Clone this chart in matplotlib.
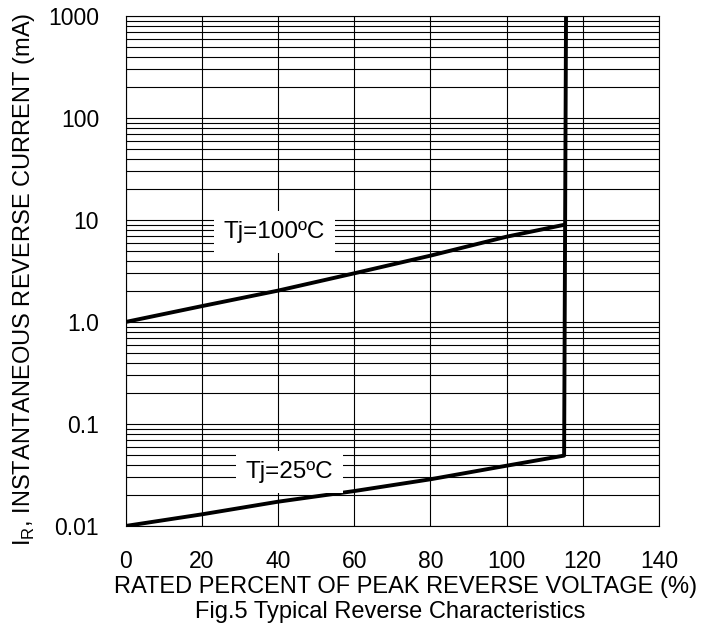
import numpy as np
import matplotlib
matplotlib.use('Agg')
import matplotlib.pyplot as plt

#-- fonts (Arial look-alike)
plt.rcParams['font.family'] = ['Liberation Sans', 'DejaVu Sans']
plt.rcParams['mathtext.fontset'] = 'custom'
plt.rcParams['mathtext.rm'] = 'Liberation Sans'

#-- data
pct_100 = [0, 20, 40, 60, 80, 100, 115.3]
ir_100 = [1.0, 1.43, 2.03, 3.0, 4.47, 6.86, 9.0]

pct_25 = [0, 20, 40, 60, 80, 100, 115.1, 115.6]
ir_25 = [0.01, 0.013, 0.0173, 0.022, 0.0287, 0.039, 0.049, 1000]

xticks = [0, 20, 40, 60, 80, 100, 120, 140]
yticks = [0.01, 0.1, 1.0, 10, 100, 1000]
ylabels = ['0.01', '0.1', '1.0', '10', '100', '1000']

fig = plt.figure(figsize=(7.05, 6.23), dpi=100)
ax = fig.add_axes([125.5 / 705, 1 - 526 / 623, 533.5 / 705, 510 / 623])

ax.set_yscale('log')
ax.set_xlim(0, 140)
ax.set_ylim(0.01, 1000)

#-- grid: major and minor, thin black lines
ax.set_xticks(xticks)
ax.set_yticks(yticks)
ax.set_yticklabels(ylabels)
ax.yaxis.set_minor_locator(matplotlib.ticker.LogLocator(base=10, subs=np.arange(2, 10)))
ax.yaxis.set_minor_formatter(matplotlib.ticker.NullFormatter())
ax.grid(True, which='major', axis='both', color='black', linewidth=0.8)
ax.grid(True, which='minor', axis='y', color='black', linewidth=0.8)
ax.tick_params(which='both', length=0)
ax.tick_params(axis='y', pad=19, labelsize=16.5)
ax.tick_params(axis='x', pad=17, labelsize=16.5)
for sp in ax.spines.values():
    sp.set_linewidth(0.8)

#-- curves
ax.plot(pct_100, ir_100, color='black', linewidth=2.8, solid_capstyle='round', zorder=3)
ax.plot(pct_25, ir_25, color='black', linewidth=2.8, solid_capstyle='round', zorder=3)

#-- curve labels with white boxes covering the grid
box = dict(facecolor='white', edgecolor='none', pad=7)
ax.text(39, 7.6, 'Tj=100ºC', fontsize=17.5, ha='center', va='center', bbox=box, zorder=4)
ax.text(43, 0.034, 'Tj=25ºC', fontsize=17.5, ha='center', va='center', bbox=box, zorder=4)

#-- axis labels and caption
fig.text(406 / 705, 1 - 587 / 623, 'RATED PERCENT OF PEAK REVERSE VOLTAGE (%)',
         fontsize=17, ha='center', va='center')
fig.text(24 / 705, 1 - 279 / 623, 'I$_\\mathrm{R}$, INSTANTANEOUS REVERSE CURRENT (mA)',
         fontsize=17, ha='center', va='center', rotation=90)
fig.text(390 / 705, 1 - 612 / 623, 'Fig.5 Typical Reverse Characteristics',
         fontsize=17, ha='center', va='center')

plt.savefig('out.png', dpi=100)
